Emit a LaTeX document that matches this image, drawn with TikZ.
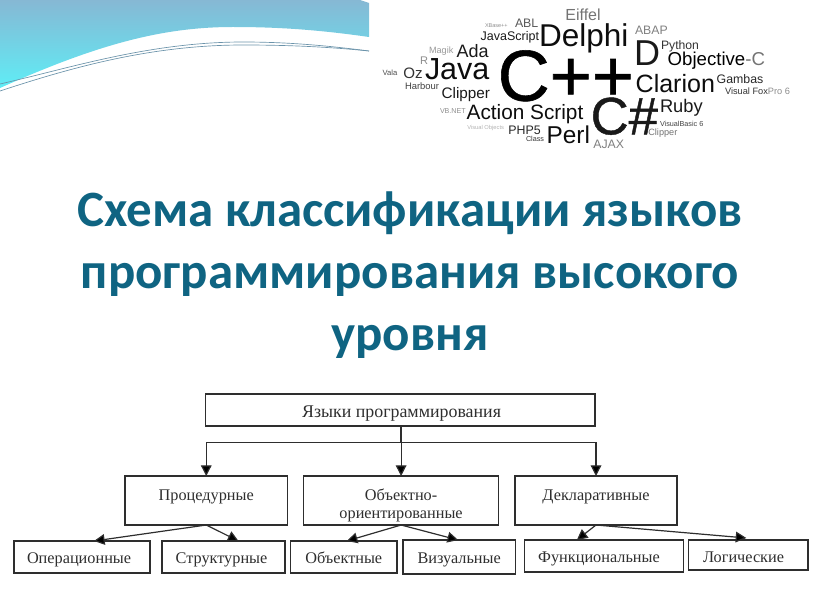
\documentclass[tikz,border=0pt]{standalone}
\usepackage{fontspec}
\usepackage{graphicx}
\usetikzlibrary{arrows.meta,calc}
\setmainfont{Liberation Serif}
\newfontfamily\titlefont{Carlito}
\newfontfamily\cloudfont{Liberation Sans}
\newfontfamily\cloudheavy[FakeBold=0.8]{Liberation Sans}
\definecolor{titleblue}{HTML}{0F6482}
\definecolor{inkdark}{HTML}{2E2E2E}
\definecolor{waveTop}{HTML}{86B8D4}
\definecolor{waveLow}{HTML}{5FEDF6}
\newcounter{wcn}
\newlength{\wcw}
% x1 x2 baseline (in 3x zoom coordinates) colour text
\newcommand{\wc}[5]{%
  \stepcounter{wcn}%
  \pgfmathsetlength{\wcw}{(#2-#1)/3*0.75pt}%
  \node[inner sep=0pt,anchor=base,text=#4] (wc\thewcn) at ({370+(#1+#2)/6},{#3/3}) {\resizebox{\wcw}{!}{\cloudfont #5}};}
\newcommand{\bx}[6]{%
  \pgfmathsetlengthmacro{\bw}{(#3-#2)*0.75pt}%
  \pgfmathsetlengthmacro{\bh}{(#5-#4)*0.75pt}%
  \node[boxn,minimum width=\bw,minimum height=\bh] (#1) at ({(#2+#3)/2},{(#4+#5)/2}) {#6};}
% shift the text inside a box: dx dy (pt) text
\newcommand{\tx}[3]{\raisebox{#2}[0pt][0pt]{\makebox[0pt][c]{\kern #1\relax\kern #1\relax #3}}}
\tikzset{
  boxn/.style={draw=inkdark,line width=0.9pt,inner sep=0pt,outer sep=0pt,text=inkdark,font=\fontsize{12.2}{13.5}\selectfont},
  conn/.style={draw=inkdark,line width=0.9pt},
  arr/.style={conn,-{Triangle[length=8pt,width=8pt,fill=black]}}
}
\begin{document}
\begin{tikzpicture}[x=0.75pt,y=-0.75pt]
\useasboundingbox (0,0) rectangle (816,613);
% wave
\shade[top color=waveTop,bottom color=waveLow,draw=none]
  (0,0) -- (360,0) -- (369,3) -- (369,37)
  .. controls (320,30) and (280,27) .. (233,27)
  .. controls (165,27) and (100,43) .. (0,88) -- cycle;
\draw[line width=0.5pt,color=waveTop!80!black] (0,84) .. controls (70,68) and (150,42) .. (243,42) .. controls (290,42) and (330,46) .. (369,51);
\draw[line width=0.5pt,color=waveTop!80!black] (0,91) .. controls (70,68) and (150,45) .. (243,45) .. controls (290,45) and (330,47) .. (369,51);
% word cloud
\wc{586}{692}{62}{black!55}{Eiffel}
\wc{345}{413}{83}{black!45}{XBase++}
\wc{435}{505}{82}{black!65}{ABL}
\wc{332}{507}{123}{black!90}{JavaScript}
\wc{507}{775}{140}{black!95}{Delphi}
\wc{795}{893}{103}{black!50}{ABAP}
\wc{177}{250}{162}{black!40}{Magik}
\wc{260}{356}{172}{black!90}{Ada}
\wc{873}{987}{150}{black!80}{Python}
\wc{792}{870}{198}{black!90}{D}
\wc{893}{1185}{198}{black}{Objective{\color{black!55}-C}}
\wc{150}{174}{193}{black!45}{R}
\wc{165}{358}{238}{black!95}{Java}
\wc{383}{792}{302}{black}{\cloudheavy C++}
\wc{38}{82}{226}{black!70}{Vala}
\wc{100}{158}{235}{black!80}{Oz}
\wc{797}{1035}{277}{black!95}{Clarion}
\wc{1040}{1180}{250}{black!85}{Gambas}
\wc{105}{207}{268}{black!75}{Harbour}
\wc{215}{360}{295}{black!90}{Clipper}
\wc{1065}{1260}{283}{black!80}{Visual Fox{\color{black!45}Pro 6}}
\wc{210}{287}{340}{black!45}{VB.NET}
\wc{290}{640}{359}{black!95}{Action Script}
\wc{662}{864}{403}{black!90}{\cloudheavy C\#}
\wc{870}{998}{337}{black!90}{Ruby}
\wc{870}{1000}{378}{black!75}{VisualBasic 6}
\wc{292}{402}{389}{black!30}{Visual Objects}
\wc{415}{512}{405}{black!85}{PHP5}
\wc{468}{522}{424}{black!80}{Class}
\wc{530}{660}{430}{black!95}{Perl}
\wc{835}{922}{406}{black!55}{Clipper}
\wc{670}{762}{447}{black!50}{AJAX}
% title
\node[align=center,text=titleblue,inner sep=0pt,font=\titlefont\bfseries\fontsize{38.2}{46.5}\selectfont] (title) at (410,275)
 {Схема классификации языков\\программирования высокого\\уровня};
% boxes
\bx{root}{205.5}{595}{394}{426}{\tx{1pt}{-5.75pt}{\fontsize{13.4}{15}\selectfont Языки программирования}}
\bx{proc}{125}{287.5}{476}{525}{\tx{0pt}{0.25pt}{Процедурные}}
\bx{oo}{303.5}{498.7}{476}{525}{\tx{0pt}{-7pt}{\begin{tabular}{@{}c@{}}Объектно-\\ориентированные\end{tabular}}}
\bx{decl}{515}{677}{476}{525}{\tx{0pt}{0.25pt}{Декларативные}}
\bx{oper}{14}{150}{541}{573}{\tx{-2.2pt}{-4.8pt}{Операционные}}
\bx{stru}{162}{285}{541}{573}{\tx{-1.5pt}{-4.8pt}{Структурные}}
\bx{obj}{290.5}{397}{541}{573}{\tx{0pt}{-4.8pt}{Объектные}}
\bx{vis}{403}{515.3}{540}{574}{\tx{0pt}{-5pt}{Визуальные}}
\bx{func}{524.3}{683.3}{540}{572}{\tx{-3.6pt}{-5pt}{Функциональные}}
\bx{logi}{688.7}{808}{540}{570}{\tx{-3.6pt}{-5.5pt}{Логические}}
% connectors
\coordinate (bus) at (400.5,442.7);
\draw[conn] (root.south -| bus) -- (bus);
\draw[arr] (bus) -| (proc.north);
\draw[arr] (bus) -| (decl.north);
\draw[arr] (root.south -| oo.north) -- (oo.north);
\draw[arr] (proc.south) -- ($(oper.north)+(12,0)$);
\draw[arr] (proc.south) -- ($(stru.north)+(15,0)$);
\draw[arr] (oo.south) -- ($(obj.north)+(3,0)$);
\draw[arr] (oo.south) -- ($(vis.north)+(-1,0)$);
\draw[arr] (decl.south) -- ($(func.north)+(-27,0)$);
\draw[arr] (decl.south) -- ($(logi.north)+(-2,-2)$);
\end{tikzpicture}
\end{document}
